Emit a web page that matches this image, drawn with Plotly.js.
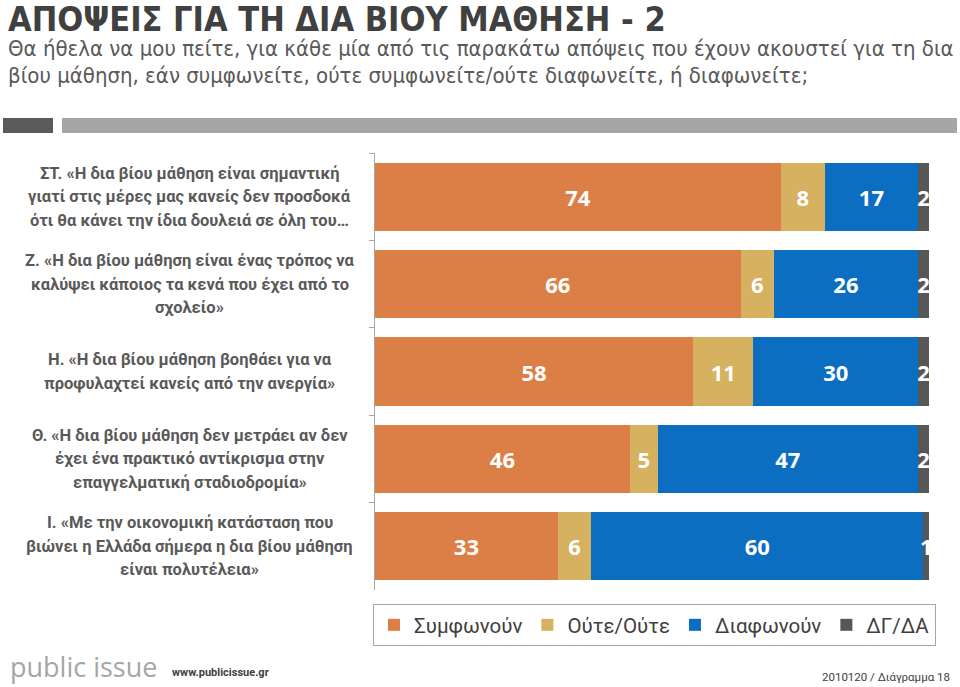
<!DOCTYPE html>
<html>
<head>
<meta charset="utf-8">
<script src="https://cdn.plot.ly/plotly-3.0.1.min.js"></script>
<style>html,body{margin:0;padding:0;background:#fff;}#chart{width:960px;height:687px;}</style>
</head>
<body>
<div id="chart"></div>
<script>
const titleText = "ΑΠΟΨΕΙΣ ΓΙΑ ΤΗ ΔΙΑ ΒΙΟΥ ΜΑΘΗΣΗ - 2";
const subtitleLines = [
  "Θα ήθελα να μου πείτε, για κάθε μία από τις παρακάτω απόψεις που έχουν ακουστεί για τη δια",
  "βίου μάθηση, εάν συμφωνείτε, ούτε συμφωνείτε/ούτε διαφωνείτε, ή διαφωνείτε;"
];
const categories = [
  "ΣΤ. «Η δια βίου μάθηση είναι σημαντική<br>γιατί στις μέρες μας κανείς δεν προσδοκά<br>ότι θα κάνει την ίδια δουλειά σε όλη του…",
  "Ζ. «Η δια βίου μάθηση είναι ένας τρόπος να<br>καλύψει κάποιος τα κενά που έχει από το<br>σχολείο»",
  "Η. «Η δια βίου μάθηση βοηθάει για να<br>προφυλαχτεί κανείς από την ανεργία»",
  "Θ. «Η δια βίου μάθηση δεν μετράει αν δεν<br>έχει ένα πρακτικό αντίκρισμα στην<br>επαγγελματική σταδιοδρομία»",
  "Ι. «Με την οικονομική κατάσταση που<br>βιώνει η Ελλάδα σήμερα η δια βίου μάθηση<br>είναι πολυτέλεια»"
];
const seriesNames = ["Συμφωνούν", "Ούτε/Ούτε", "Διαφωνούν", "ΔΓ/ΔΑ"];
const agree    = [74, 66, 58, 46, 33];
const neither  = [8, 6, 11, 5, 6];
const disagree = [17, 26, 30, 47, 60];
const dkna     = [2, 2, 2, 2, 1];
const footerLogo = "public issue";
const footerUrl = "www.publicissue.gr";
const footerRef = "2010120 / Διάγραμμα 18";

const colors = ["#DC7F47", "#D6B160", "#0B6EC0", "#575757"];
const W = 960, H = 687, L = 375, R = 31, T = 153, B = 97;
const pw = W - L - R, ph = H - T - B;
const px2x = p => (p - L) / pw;
const py2y = p => (H - B - p) / ph;

const labelFont = "Roboto, 'Open Sans', sans-serif";
const numFont = "'Open Sans', Roboto, sans-serif";
const condFont = "'Liberation Sans Narrow', 'DejaVu Sans Condensed', 'Roboto Condensed', sans-serif";

const seriesVals = [agree, neither, disagree, dkna];
const traces = seriesVals.map((vals, k) => ({
  type: "bar",
  orientation: "h",
  name: seriesNames[k],
  y: categories,
  x: vals,
  text: vals.map(String),
  texttemplate: "%{text}",
  textposition: "inside",
  insidetextanchor: "middle",
  textangle: 0,
  textfont: {family: numFont, size: 22, color: "#ffffff", weight: "bold"},
  marker: {color: colors[k], line: {width: 0}},
  hoverinfo: "skip"
}));

const annotations = [];
annotations.push({
  text: "<b>" + titleText + "</b>", xref: "paper", yref: "paper",
  x: px2x(6), y: py2y(19), xanchor: "left", yanchor: "middle", showarrow: false,
  font: {family: condFont, size: 34, color: "#404040"}
});
subtitleLines.forEach((s, j) => annotations.push({
  text: s, xref: "paper", yref: "paper",
  x: px2x(6), y: py2y(48 + j * 27.5), xanchor: "left", yanchor: "middle", showarrow: false,
  font: {family: condFont, size: 22, color: "#595959"}
}));
categories.forEach((c, i) => {
  const lines = c.split("<br>");
  const n = lines.length;
  lines.forEach((ln, j) => annotations.push({
    text: "<b>" + ln + "</b>", xref: "paper", yref: "y",
    x: px2x(190), y: c, yshift: ((n - 1) / 2 - j) * 23.5,
    xanchor: "center", yanchor: "middle", showarrow: false,
    font: {family: labelFont, size: 16.5, color: "#595959"}
  }));
});
annotations.push({
  text: footerLogo, xref: "paper", yref: "paper",
  x: px2x(8), y: py2y(666), xanchor: "left", yanchor: "middle", showarrow: false,
  font: {family: "'Open Sans', sans-serif", size: 27, color: "#a6a6a6"}
});
annotations.push({
  text: "<b>" + footerUrl + "</b>", xref: "paper", yref: "paper",
  x: px2x(170), y: py2y(672), xanchor: "left", yanchor: "middle", showarrow: false,
  font: {family: labelFont, size: 11, color: "#404040"}
});
annotations.push({
  text: footerRef, xref: "paper", yref: "paper",
  x: px2x(952), y: py2y(677), xanchor: "right", yanchor: "middle", showarrow: false,
  font: {family: labelFont, size: 11.5, color: "#404040"}
});

const shapes = [
  {type: "rect", xref: "paper", yref: "paper", x0: px2x(3), x1: px2x(53), y0: py2y(133), y1: py2y(118),
   fillcolor: "#5a5a5a", line: {width: 0}, layer: "below"},
  {type: "rect", xref: "paper", yref: "paper", x0: px2x(62), x1: px2x(957), y0: py2y(133), y1: py2y(118),
   fillcolor: "#a6a6a6", line: {width: 0}, layer: "below"}
];

const layout = {
  width: W, height: H,
  margin: {l: L, r: R, t: T, b: B, pad: 0},
  paper_bgcolor: "#ffffff", plot_bgcolor: "#ffffff",
  barmode: "stack", barnorm: "percent", bargap: 0.22,
  showlegend: true,
  legend: {
    orientation: "h", x: px2x(373), xanchor: "left", y: py2y(604), yanchor: "top",
    bordercolor: "#a6a6a6", borderwidth: 1, traceorder: "normal",
    font: {family: labelFont, size: 20.5, color: "#404040"}
  },
  xaxis: {visible: false, range: [0, 100], fixedrange: true},
  yaxis: {
    type: "category", autorange: "reversed", showticklabels: false,
    showline: true, linecolor: "#a6a6a6", linewidth: 1,
    ticks: "outside", ticklen: 5, tickcolor: "#a6a6a6", tickson: "boundaries",
    showgrid: false, zeroline: false, fixedrange: true
  },
  uniformtext: {mode: "show", minsize: 22},
  annotations: annotations,
  shapes: shapes
};

Plotly.newPlot("chart", traces, layout, {displayModeBar: false, staticPlot: true});
</script>
</body>
</html>
